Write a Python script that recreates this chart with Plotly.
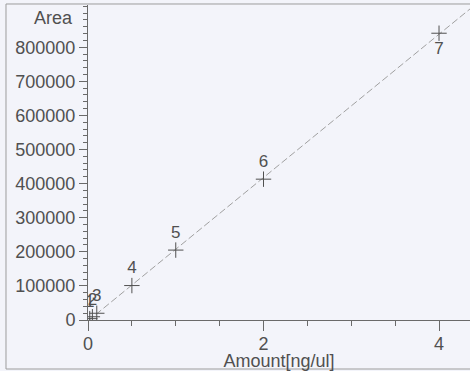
import numpy as np
import plotly.graph_objects as go

# Calibration standards: amount injected vs. integrated peak area
level = ["1", "2", "3", "4", "5", "6", "7"]
amount = [0.02, 0.05, 0.1, 0.5, 1.0, 2.0, 4.0]
area = [4000, 9500, 19800, 101000, 205000, 413000, 841000]

x_ticks = [0, 2, 4]
y_ticks = [0, 100000, 200000, 300000, 400000, 500000, 600000, 700000, 800000]

TXT = "#505050"
AX = "#6a6a6a"
BG = "#f3f4fa"
FONT = "Liberation Sans, Arial, sans-serif"

# Linear regression of the calibration curve
slope, intercept = np.polyfit(amount, area, 1)
fit_x = np.array([0.0, 4.4])
fit_y = slope * fit_x + intercept

fig = go.Figure()

fig.add_trace(go.Scatter(
    x=fit_x, y=fit_y, mode="lines",
    line=dict(color="#a0a0a0", width=1, dash="7px,3px"),
    hoverinfo="skip", showlegend=False,
))

positions = ["top center"] * 6 + ["bottom center"]
fig.add_trace(go.Scatter(
    x=amount, y=area, mode="markers+text",
    marker=dict(symbol="cross-thin", size=11, line=dict(color="#505050", width=1)),
    text=level, textposition=positions,
    textfont=dict(family=FONT, size=17, color=TXT),
    showlegend=False,
))

fig.update_layout(
    width=470, height=371,
    margin=dict(l=88, r=0, t=5, b=51),
    paper_bgcolor=BG, plot_bgcolor=BG,
    font=dict(family=FONT, size=18, color=TXT),
    xaxis=dict(
        range=[0, 4.353], tickmode="array", tickvals=x_ticks,
        ticks="outside", ticklen=10, tickcolor=AX, tickwidth=1,
        minor=dict(dtick=0.5, tick0=0, ticks="outside", ticklen=5, tickcolor=AX),
        showgrid=False, zeroline=False, showline=True, linecolor=AX, linewidth=1,
        tickfont=dict(size=18, color=TXT), ticklabelstandoff=-3,
        title=dict(text="Amount[ng/ul]", font=dict(size=18, color=TXT), standoff=2),
    ),
    yaxis=dict(
        range=[0, 923750], tickmode="array", tickvals=y_ticks,
        ticktext=[str(v) for v in y_ticks],
        ticks="outside", ticklen=8, tickcolor=AX, tickwidth=1,
        minor=dict(dtick=20000, tick0=0, ticks="outside", ticklen=4, tickcolor=AX),
        showgrid=False, zeroline=False, showline=True, linecolor=AX, linewidth=1,
        tickfont=dict(size=18, color=TXT),
    ),
    annotations=[dict(
        text="Area", xref="paper", yref="y", x=0, y=885000,
        xanchor="right", yanchor="middle", xshift=-13, showarrow=False,
        font=dict(size=18, color=TXT),
    )],
    shapes=[dict(
        type="rect", xref="paper", yref="paper",
        x0=-0.2147, x1=1.02, y0=-0.1556, y1=1.0032,
        line=dict(color="#9c9c9c", width=1), layer="below",
    )],
)

fig.write_html("out.html")
